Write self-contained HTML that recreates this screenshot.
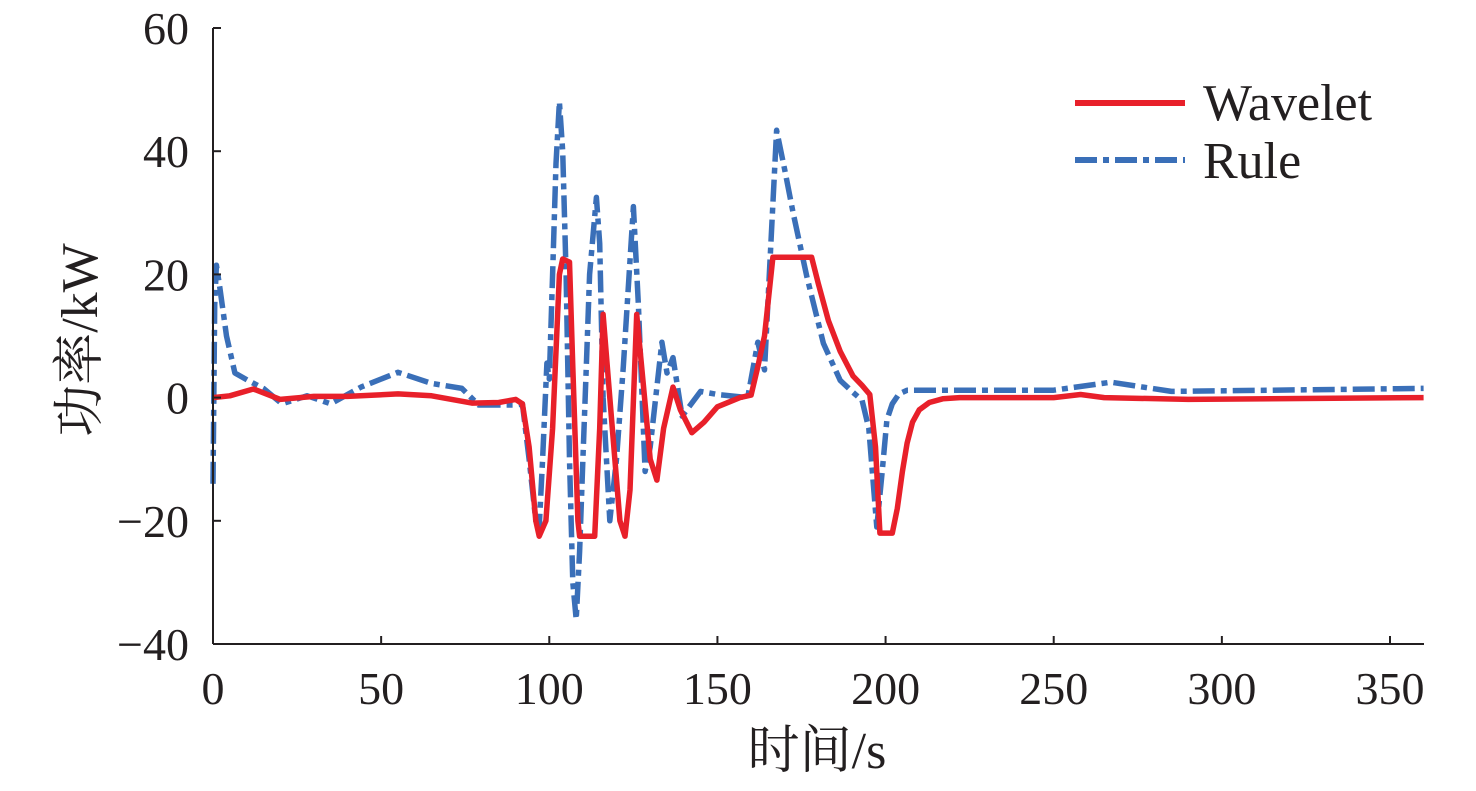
<!DOCTYPE html>
<html><head><meta charset="utf-8"><style>
html,body{margin:0;padding:0;background:#fff;}
svg text{font-family:"Liberation Serif","Noto Serif CJK SC","Noto Sans CJK SC",serif;fill:#231f20;}
</style></head><body>
<svg id="chart" width="1476" height="786" xmlns="http://www.w3.org/2000/svg">
<g id="grid"></g>
<g id="series"></g>
<g id="axes"></g>
<g id="legend">
  <line x1="1075" y1="103" x2="1185" y2="103" stroke="#e8202a" stroke-width="6"/>
  <text x="1203" y="120" font-size="52">Wavelet</text>
  <line x1="1075" y1="160" x2="1185" y2="160" stroke="#3a6fb8" stroke-width="6" stroke-dasharray="22,6,6,6"/>
  <text x="1203" y="178" font-size="52">Rule</text>
</g>
<text x="817" y="768" font-size="52" text-anchor="middle">时间/s</text>
<text transform="translate(97,340) rotate(-90)" font-size="52" text-anchor="middle">功率/kW</text>
</svg>
<script>
const xTicks=[0,50,100,150,200,250,300,350];
const yTicks=[-40,-20,0,20,40,60];
const yTickLabels=["\u221240","\u221220","0","20","40","60"];
const waveletX=[0,5,12,20,30,40,55,65,77,85,90,92,94,96,97,99,101,103,104,106,107,108.5,109,113.5,115,116,118,121,122.5,124,126,128,130,132,134,136.8,139,142.4,146,150,156.7,160,162,164,166.5,178,180,183,186.5,190.3,193,195.3,197,198.3,202,203.5,205,206.4,208,210,213,217,222,250,258,265,290,360];
const waveletY=[0,0.3,1.4,-0.3,0.2,0.2,0.6,0.3,-0.9,-0.8,-0.3,-1,-8,-20,-22.5,-20,-5,20,22.5,22,5,-20,-22.5,-22.5,-5,13.5,0,-20,-22.5,-15,13.5,2,-10,-13.4,-5,1.7,-2,-5.7,-4,-1.5,0,0.4,5,10,22.8,22.8,18.5,12.5,7.5,3.5,2,0.5,-8,-22,-22,-18,-12,-7.4,-4,-2,-0.8,-0.2,0,0,0.5,0,-0.3,0];
const ruleX=[0,0.5,1,2,4,6.5,10.4,15,20.5,28,35,44,55,65,74,79,90,92,94,96,97,98,99.3,100,101,102,103,104,105,106,107,108,109,110,111,112,114,115,116,118,120,122,125,126.5,128.5,130,133.5,135,136.8,139.5,145,150,159,162,164,167.6,170,172.5,176.6,181.5,186.5,190,193,195,197.4,199,200.4,202,204,206.4,250,267,285,360];
const ruleY=[-14,15,21.5,18,10,4,2.8,1.5,-1,0.3,-1,1.7,4.1,2.3,1.5,-1.2,-1.2,-1,-10,-20,-21,-10,5.6,3,20,38,48,40,20,-10,-30,-36,-25,-10,5,20,32.5,25,0,-20,-10,5,31,15,-12,-8,9,4,6.5,-3,1,0.5,0,9,4.5,43.4,37,30,19.6,8.8,2.8,1,-0.4,-5,-21,-12,-3.6,-1,0.6,1.2,1.2,2.5,1,1.5];

const X0=213,X1=1424,XPX=(1390-213)/350;
const YTOP=28,YBOT=644,YPX=(644-28)/100;
const sx=v=>X0+v*XPX;
const sy=v=>YBOT-(v+40)*YPX;
const NS="http://www.w3.org/2000/svg";
function mk(tag,attrs,parent){const e=document.createElementNS(NS,tag);for(const k in attrs)e.setAttribute(k,attrs[k]);parent.appendChild(e);return e;}
const axes=document.getElementById('axes'),series=document.getElementById('series');
function pts(xs,ys){return xs.map((x,i)=>sx(x).toFixed(1)+","+sy(ys[i]).toFixed(1)).join(" ");}
const r=mk('polyline',{points:pts(ruleX,ruleY),fill:'none',stroke:'#3a6fb8','stroke-width':5.5,'stroke-dasharray':'22,6,6,6','stroke-linejoin':'round'},series);


const w=mk('polyline',{points:pts(waveletX,waveletY),fill:'none',stroke:'#e8202a','stroke-width':5.5,'stroke-linejoin':'round'},series);


const xa=mk('line',{x1:X0,y1:YBOT,x2:X1,y2:YBOT,stroke:'#231f20','stroke-width':2},axes);


const ya=mk('line',{x1:X0,y1:YTOP,x2:X0,y2:YBOT,stroke:'#231f20','stroke-width':2},axes);


xTicks.forEach(v=>{
  const t=mk('line',{x1:sx(v),y1:YBOT,x2:sx(v),y2:YBOT-8,stroke:'#231f20','stroke-width':2},axes);
  
  
  const l=mk('text',{x:sx(v),y:YBOT+60,'font-size':46,'text-anchor':'middle'},axes);
  l.textContent=v;
  
  
});
yTicks.forEach((v,i)=>{
  const t=mk('line',{x1:X0,y1:sy(v),x2:X0+8,y2:sy(v),stroke:'#231f20','stroke-width':2},axes);
  
  
  const l=mk('text',{x:189,y:sy(v)+16,'font-size':46,'text-anchor':'end'},axes);
  l.textContent=yTickLabels[i];
  
  
});
</script>
</body></html>
